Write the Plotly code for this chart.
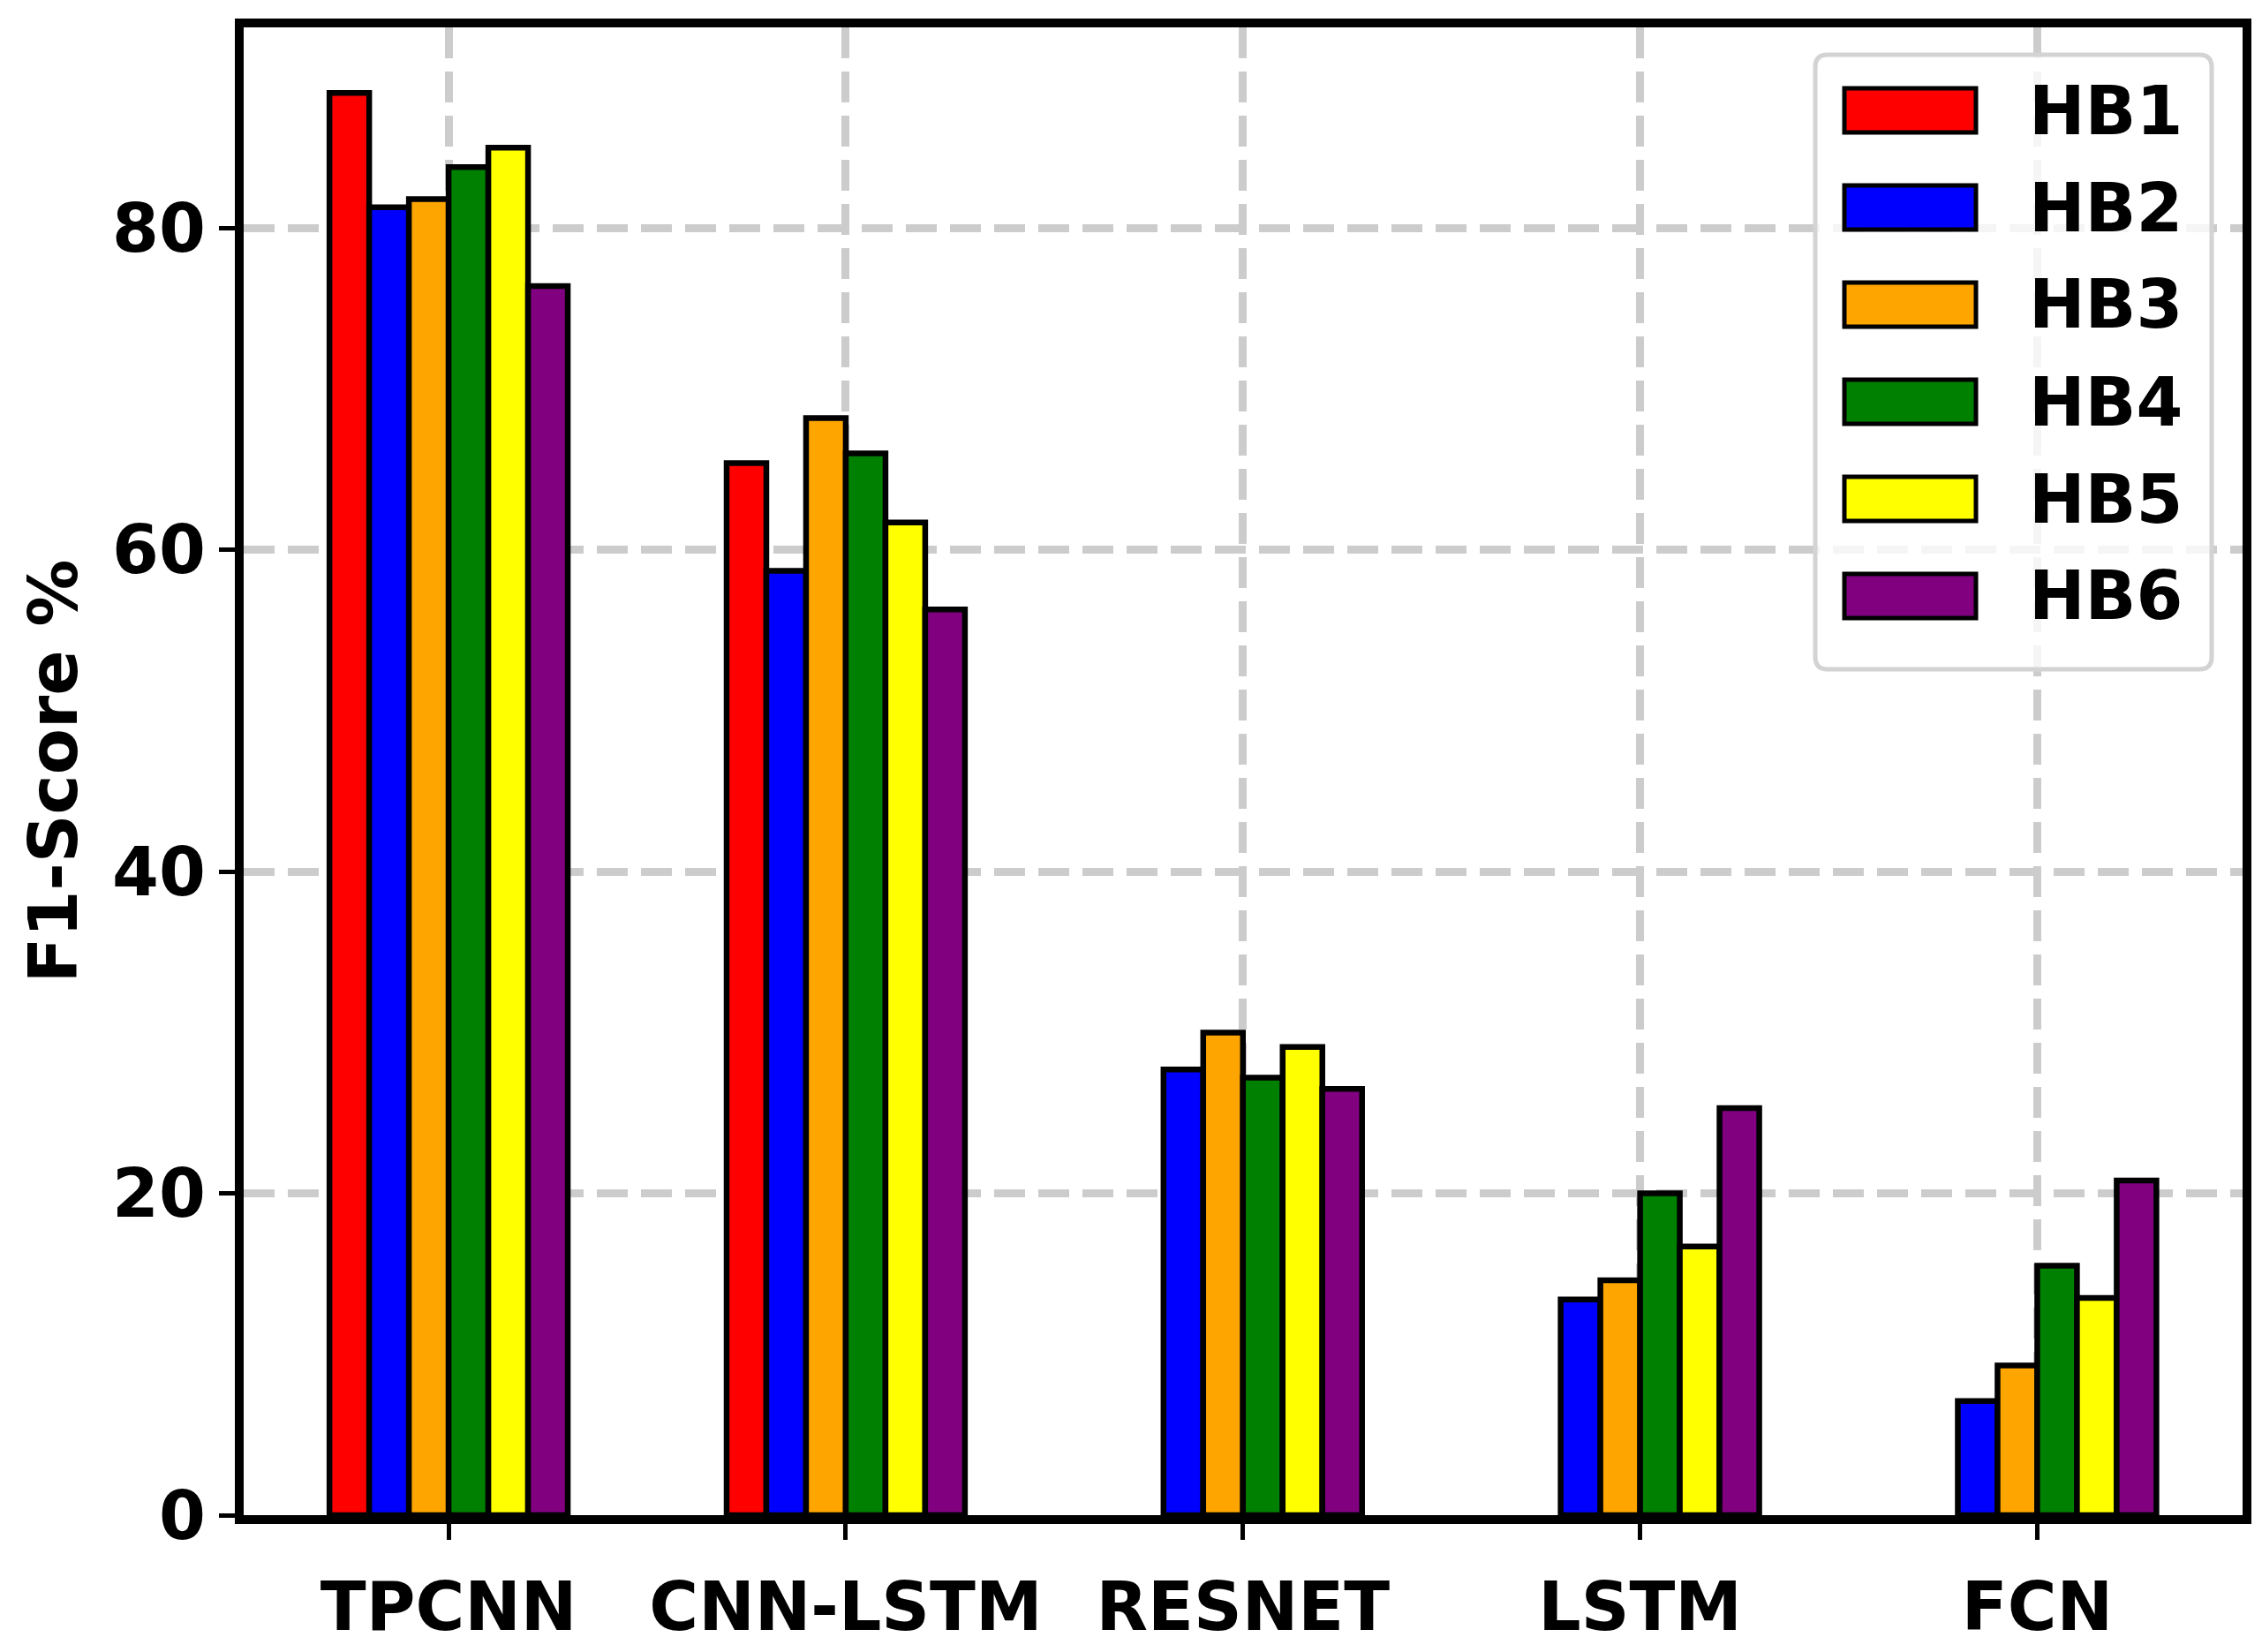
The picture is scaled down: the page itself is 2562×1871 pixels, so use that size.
import plotly.graph_objs as go

MODELS = ["TPCNN", "CNN-LSTM", "RESNET", "LSTM", "FCN"]
SERIES = ["HB1", "HB2", "HB3", "HB4", "HB5", "HB6"]
COLORS = ["#ff0000", "#0000ff", "#ffa500", "#008000", "#ffff00", "#800080"]

HB1 = [88.4, 65.4, None, None, None]
HB2 = [81.3, 58.7, 27.7, 13.4, 7.1]
HB3 = [81.8, 68.2, 30.0, 14.6, 9.3]
HB4 = [83.8, 66.0, 27.2, 20.0, 15.5]
HB5 = [85.0, 61.7, 29.1, 16.7, 13.5]
HB6 = [76.4, 56.3, 26.5, 25.3, 20.8]
VALUES = [HB1, HB2, HB3, HB4, HB5, HB6]

Y_TICKS = [0, 20, 40, 60, 80]

# the page body has an 8px margin, so the figure is made 8px smaller
OFF = 8
W, H = 2562 - OFF, 1871 - OFF
# plot area in window pixels (inside the frame lines, plotly draws axis lines outside it)
L, R, T, B = 276, 2540, 31, 1716

FONT = dict(family="DejaVu Sans", size=76, color="black", weight="bold")


def fx(x):
    return (x - L) / (R - L)


def fy(y):
    return (B - y) / (B - T)


fig = go.Figure()
for name, vals, col in zip(SERIES, VALUES, COLORS):
    fig.add_trace(go.Bar(x=MODELS, y=vals, name=name,
                         marker=dict(color=col, line=dict(color="black", width=6.5))))

# legend drawn by hand so the swatches can be wide like the original
x0, x1 = fx(2056), fx(2505)
y0, y1 = fy(758), fy(62)
rx, ry = 14 / (R - L), 14 / (B - T)
frame = (f"M{x0+rx},{y1} L{x1-rx},{y1} Q{x1},{y1} {x1},{y1-ry} "
         f"L{x1},{y0+ry} Q{x1},{y0} {x1-rx},{y0} L{x0+rx},{y0} "
         f"Q{x0},{y0} {x0},{y0+ry} L{x0},{y1-ry} Q{x0},{y1} {x0+rx},{y1} Z")
shapes = [dict(type="path", path=frame, xref="paper", yref="paper",
               fillcolor="rgba(255,255,255,0.8)", line=dict(color="#d3d3d3", width=5),
               layer="above")]
annotations = []
for i, (name, col) in enumerate(zip(SERIES, COLORS)):
    cy = 125 + 110 * i
    shapes.append(dict(type="rect", xref="paper", yref="paper",
                       x0=fx(2089), x1=fx(2238), y0=fy(cy + 25), y1=fy(cy - 25),
                       fillcolor=col, line=dict(color="black", width=5), layer="above"))
    annotations.append(dict(text=name, xref="paper", yref="paper", x=fx(2296), y=fy(cy),
                            xanchor="left", yanchor="middle", showarrow=False, font=FONT))

fig.layout = go.Layout(
    width=W, height=H,
    margin=dict(l=L - OFF, r=W + OFF - R, t=T - OFF, b=H + OFF - B, pad=0),
    paper_bgcolor="white", plot_bgcolor="white",
    barmode="group", bargap=0.4, bargroupgap=0,
    showlegend=False,
    shapes=shapes, annotations=annotations,
    xaxis=dict(type="category", categoryorder="array", categoryarray=MODELS,
               range=[-0.516, 4.517], tickfont=FONT, automargin=False,
               showline=True, linewidth=10, linecolor="black", mirror=True,
               ticks="outside", ticklen=18, tickwidth=5, tickcolor="black",
               ticklabelstandoff=11,
               showgrid=True, gridcolor="#cccccc", gridwidth=9, griddash="35px,15px",
               zeroline=False),
    yaxis=dict(range=[0, 92.48], tickvals=Y_TICKS, tickfont=FONT, automargin=False,
               title=dict(text="F1-Score %", font=FONT, standoff=18),
               showline=True, linewidth=10, linecolor="black", mirror=True,
               ticks="outside", ticklen=18, tickwidth=5, tickcolor="black",
               ticklabelstandoff=0,
               showgrid=True, gridcolor="#cccccc", gridwidth=9, griddash="35px,15px",
               zeroline=False),
)

fig.write_html("out.html")
